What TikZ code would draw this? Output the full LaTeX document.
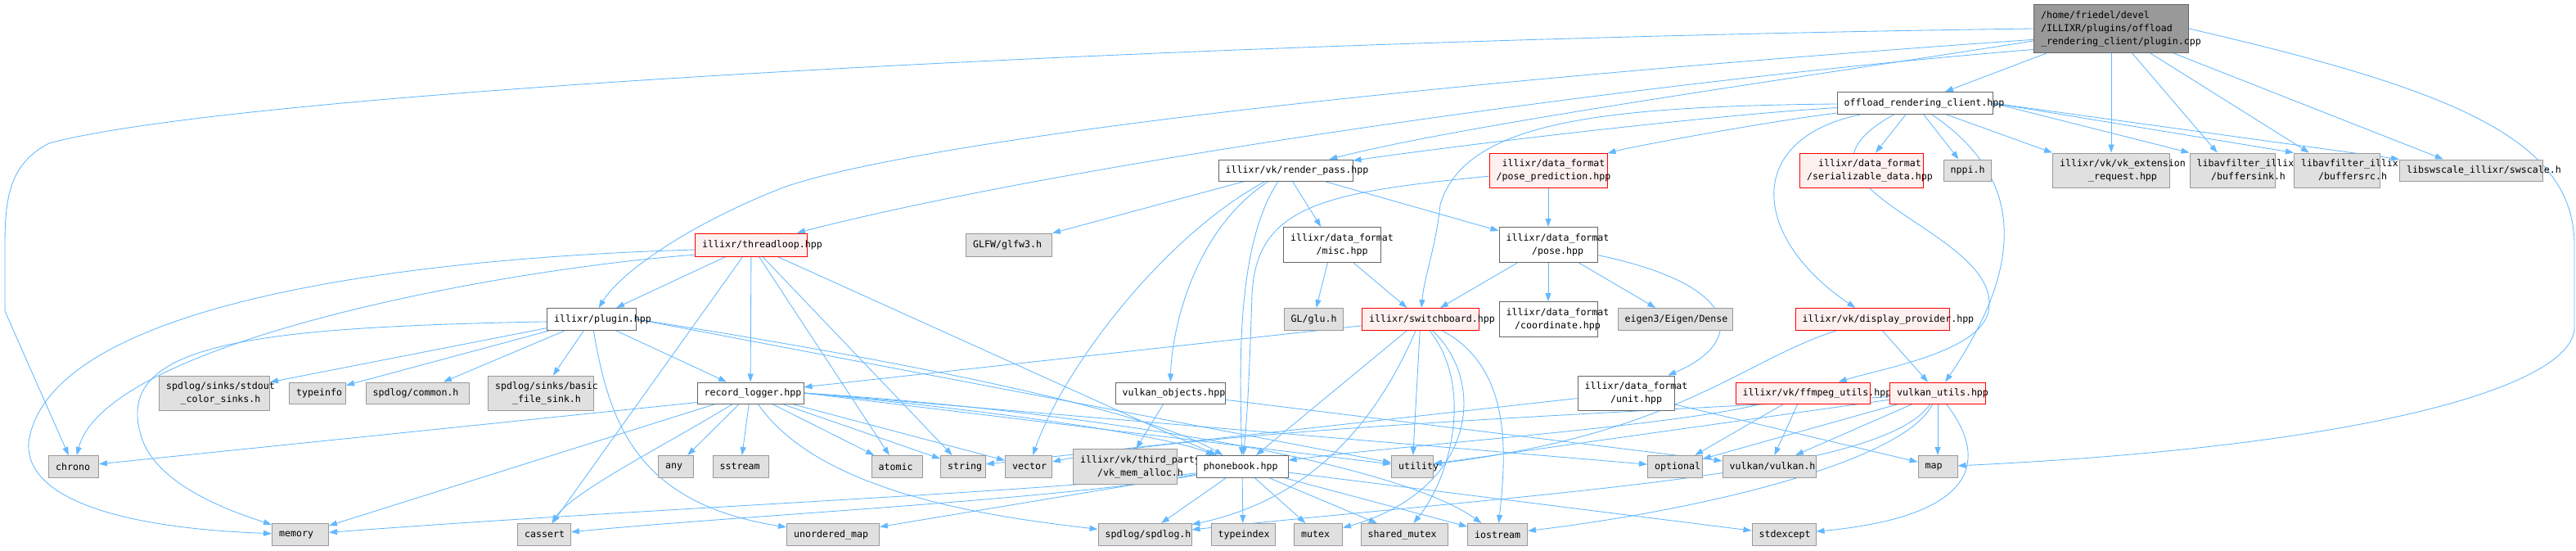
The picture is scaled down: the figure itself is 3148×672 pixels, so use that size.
\documentclass[tikz,border=0pt]{standalone}
\usepackage{fontspec}
\usetikzlibrary{arrows.meta}
\newfontfamily\dfont{DejaVu Sans Mono}
\definecolor{edgec}{RGB}{99,184,255}
\definecolor{extfill}{RGB}{224,224,224}
\definecolor{extdraw}{RGB}{153,153,153}
\definecolor{plaindraw}{RGB}{102,102,102}
\definecolor{redfill}{RGB}{255,240,240}
\definecolor{rootfill}{RGB}{153,153,153}
\pgfdeclarelayer{bg}
\pgfsetlayers{bg,main}
\tikzset{
  boxbase/.style={rectangle, inner sep=0pt, line width=1pt},
  plainbox/.style={boxbase, draw=plaindraw, fill=white},
  extbox/.style={boxbase, draw=extdraw, fill=extfill},
  redbox/.style={boxbase, draw=red, fill=redfill},
  rootbox/.style={boxbase, draw=plaindraw, fill=rootfill},
  txt/.style={anchor=west, inner sep=0pt, align=center, font={\dfont\fontsize{11.6}{16}\selectfont}},
  dep/.style={draw=edgec, line width=0.85pt, -{Triangle[length=10pt,width=7pt]}},
}
\newcommand\bx[7]{%
  \node[#2, minimum width=#5pt, minimum height=#6pt] (#1) at (#3,#4) {};
  \node[txt] (#1t) at ([xshift=9pt]#1.west) {#7};}
\begin{document}
\begin{tikzpicture}[x=1pt,y=-1pt]
\useasboundingbox (0,0) rectangle (3148,672);
% row 0
\node[rootbox, minimum width=189pt, minimum height=59pt] (P) at (2580,35) {};
\node[txt, align=left] (Pt) at ([xshift=9pt]P.west) {/home/friedel/devel\\/ILLIXR/plugins/offload\\\_rendering\_client/plugin.cpp};
% row 1
\bx{O}{plainbox}{2340}{126}{190}{27}{offload\_rendering\_client.hpp}
% row 2
\bx{R}{plainbox}{1571}{208}{164}{26}{illixr/vk/render\_pass.hpp}
\bx{PP}{redbox}{1892}{208}{144}{42}{illixr/data\_format\\/pose\_prediction.hpp}
\bx{serial}{redbox}{2275}{208}{151}{42}{illixr/data\_format\\/serializable\_data.hpp}
\bx{nppi}{extbox}{2404}{208}{58}{26}{nppi.h}
\bx{vkext}{extbox}{2580}{208}{143}{42}{illixr/vk/vk\_extension\\\_request.hpp}
\bx{bsink}{extbox}{2728}{208}{104}{42}{libavfilter\_illixr\\/buffersink.h}
\bx{bsrc}{extbox}{2856}{208}{105}{42}{libavfilter\_illixr\\/buffersrc.h}
\bx{swscale}{extbox}{3020}{208}{175}{26}{libswscale\_illixr/swscale.h}
% row 3
\bx{T}{redbox}{918}{299}{137}{28}{illixr/threadloop.hpp}
\bx{GLFW}{extbox}{1233}{299}{105}{28}{GLFW/glfw3.h}
\bx{M}{plainbox}{1628}{299}{119}{43}{illixr/data\_format\\/misc.hpp}
\bx{PO}{plainbox}{1892}{299}{120}{43}{illixr/data\_format\\/pose.hpp}
% row 4
\bx{PH}{plainbox}{723}{390}{109}{27}{illixr/plugin.hpp}
\bx{glu}{extbox}{1605}{390}{72}{27}{GL/glu.h}
\bx{SW}{redbox}{1736}{390}{143}{27}{illixr/switchboard.hpp}
\bx{coord}{plainbox}{1892}{390}{120}{43}{illixr/data\_format\\/coordinate.hpp}
\bx{eigen}{extbox}{2047}{390}{140}{27}{eigen3/Eigen/Dense}
\bx{DP}{redbox}{2288}{390}{188}{27}{illixr/vk/display\_provider.hpp}
% row 5
\bx{stdout}{extbox}{262}{480}{135}{42}{spdlog/sinks/stdout\\\_color\_sinks.h}
\bx{typeinfo}{extbox}{388}{480}{69}{26}{typeinfo}
\bx{common}{extbox}{510}{480}{126}{26}{spdlog/common.h}
\bx{basic}{extbox}{661}{480}{129}{42}{spdlog/sinks/basic\\\_file\_sink.h}
\bx{RL}{plainbox}{917}{480}{130}{26}{record\_logger.hpp}
\bx{VO}{plainbox}{1430}{480}{134}{26}{vulkan\_objects.hpp}
\bx{unit}{plainbox}{1987}{480}{118}{42}{illixr/data\_format\\/unit.hpp}
\bx{FF}{redbox}{2203}{480}{164}{26}{illixr/vk/ffmpeg\_utils.hpp}
\bx{VU}{redbox}{2368}{480}{117}{26}{vulkan\_utils.hpp}
% row 6
\bx{chrono}{extbox}{90}{570}{61}{27}{chrono}
\bx{any}{extbox}{826}{570}{43}{27}{any}
\bx{sstream}{extbox}{905}{570}{68}{27}{sstream}
\bx{atomic}{extbox}{1096}{570}{62}{27}{atomic}
\bx{string}{extbox}{1177}{570}{55}{27}{string}
\bx{vector}{extbox}{1257}{570}{57}{27}{vector}
\bx{vkmem}{extbox}{1375}{570}{127}{43}{illixr/vk/third\_party\\/vk\_mem\_alloc.h}
\bx{PB}{plainbox}{1518}{570}{112}{27}{phonebook.hpp}
\bx{utility}{extbox}{1726}{570}{51}{27}{utility}
\bx{optional}{extbox}{2047}{570}{67}{27}{optional}
\bx{vulkanh}{extbox}{2162}{570}{114}{27}{vulkan/vulkan.h}
\bx{map}{extbox}{2368}{570}{48}{27}{map}
% row 7
\bx{memory}{extbox}{367}{653}{69}{27}{memory}
\bx{cassert}{extbox}{665}{653}{65}{27}{cassert}
\bx{umap}{extbox}{1018}{653}{113}{27}{unordered\_map}
\bx{spdlog}{extbox}{1399}{653}{114}{27}{spdlog/spdlog.h}
\bx{typeindex}{extbox}{1519}{653}{78}{27}{typeindex}
\bx{mutex}{extbox}{1611}{653}{59}{27}{mutex}
\bx{shmutex}{extbox}{1716}{653}{106}{27}{shared\_mutex}
\bx{iostream}{extbox}{1830}{653}{73}{27}{iostream}
\bx{stdexcept}{extbox}{2180}{653}{78}{27}{stdexcept}

\begin{pgfonlayer}{bg}
% plugin.cpp
\draw[dep] (P.west) .. controls (1500,48) and (300,110) .. (60,175) .. controls (12,200) and (6,240) .. (6,300) -- (6,380) -- (chrono);
\draw[dep] (P.188) .. controls (1600,110) and (1100,180) .. (960,228) .. controls (850,270) and (760,330) .. (PH);
\draw[dep] (P.195) .. controls (2000,100) and (1300,200) .. (T);
\draw[dep] (P) .. controls (2200,95) and (1800,150) .. (R);
\draw[dep] (P) -- (O);
\draw[dep] (P) -- (vkext);
\draw[dep] (P) -- (bsink);
\draw[dep] (P) -- (bsrc);
\draw[dep] (P) -- (swscale);
\draw[dep] (P.east) .. controls (3000,110) and (3146,170) .. (3146,300) -- (3146,400) .. controls (3146,470) and (2900,545) .. (map);
% offload
\draw[dep] (O) .. controls (2100,140) and (1800,175) .. (R);
\draw[dep] (O) .. controls (2150,150) and (1990,180) .. (PP);
\draw[dep] (O) .. controls (1950,130) and (1790,150) .. (1760,250) .. controls (1755,300) and (1740,340) .. (SW);
\draw[dep] (O) -- (serial);
\draw[dep] (O) -- (nppi);
\draw[dep] (O) -- (vkext.north west);
\draw[dep] (O.east) -- (bsink.north west);
\draw[dep] (O.east) -- (bsrc.north west);
\draw[dep] (O.east) -- (swscale.north west);
\draw[dep] (O) .. controls (2130,170) and (2140,290) .. (DP);
\draw[dep] (O) .. controls (2150,230) and (2450,280) .. (2430,380) .. controls (2420,430) and (2300,450) .. (FF);
\draw[dep] (O) .. controls (2480,220) and (2470,330) .. (VU);
% render_pass
\draw[dep] (R) -- (GLFW);
\draw[dep] (R) -- (M);
\draw[dep] (R) -- (PO);
\draw[dep] (R) .. controls (1460,280) and (1432,400) .. (VO);
\draw[dep] (R) .. controls (1420,290) and (1300,450) .. (vector);
\draw[dep] (R) .. controls (1510,300) and (1515,450) .. (PB);
% pose_prediction
\draw[dep] (PP) -- (PO);
\draw[dep] (PP) .. controls (1620,235) and (1535,250) .. (1530,360) .. controls (1527,450) and (1525,500) .. (PB);
% pose
\draw[dep] (PO) -- (SW);
\draw[dep] (PO) -- (coord);
\draw[dep] (PO) -- (eigen);
\draw[dep] (PO) .. controls (2136,350) and (2130,420) .. (unit);
% misc
\draw[dep] (M) -- (glu);
\draw[dep] (M) -- (SW);
% threadloop
\draw[dep] (T) -- (PH);
\draw[dep] (T) -- (RL);
\draw[dep] (T) -- (atomic);
\draw[dep] (T) -- (string);
\draw[dep] (T) -- (cassert);
\draw[dep] (T) -- (PB);
\draw[dep] (T.190) .. controls (600,330) and (130,420) .. (chrono);
\draw[dep] (T.185) .. controls (500,315) and (60,370) .. (35,540) .. controls (30,610) and (150,645) .. (memory);
% plugin.hpp
\draw[dep] (PH) -- (stdout);
\draw[dep] (PH) -- (typeinfo);
\draw[dep] (PH) -- (common);
\draw[dep] (PH) -- (basic);
\draw[dep] (PH) -- (RL);
\draw[dep] (PH.183) .. controls (300,400) and (130,420) .. (175,540) .. controls (200,600) and (300,630) .. (memory);
\draw[dep] (PH) .. controls (745,520) and (780,615) .. (umap);
\draw[dep] (PH.east) .. controls (1100,440) and (1400,500) .. (PB);
\draw[dep] (PH.east) -- (utility);
% switchboard
\draw[dep] (SW) -- (RL);
\draw[dep] (SW) -- (PB);
\draw[dep] (SW) -- (utility);
\draw[dep] (SW) .. controls (1680,520) and (1600,610) .. (spdlog);
\draw[dep] (SW) .. controls (1800,470) and (1775,580) .. (shmutex);
\draw[dep] (SW) .. controls (1820,470) and (1800,600) .. (mutex);
\draw[dep] (SW) .. controls (1850,450) and (1840,560) .. (iostream);
% record_logger
\draw[dep] (RL.190) -- (chrono);
\draw[dep] (RL) -- (memory);
\draw[dep] (RL) .. controls (820,540) and (700,600) .. (cassert);
\draw[dep] (RL) -- (any);
\draw[dep] (RL) -- (sstream);
\draw[dep] (RL) -- (atomic);
\draw[dep] (RL) -- (string);
\draw[dep] (RL) -- (vector);
\draw[dep] (RL) .. controls (1000,600) and (1200,630) .. (spdlog);
\draw[dep] (RL.east) .. controls (1200,500) and (1420,530) .. (PB);
\draw[dep] (RL.east) -- (utility);
\draw[dep] (RL.east) -- (optional);
\draw[dep] (RL.east) .. controls (1300,500) and (1700,560) .. (iostream);
% vulkan_objects
\draw[dep] (VO) -- (vkmem);
\draw[dep] (VO) -- (vulkanh);
% unit
\draw[dep] (unit) -- (string);
\draw[dep] (unit) -- (map);
% display_provider
\draw[dep] (DP) -- (VU);
\draw[dep] (DP) .. controls (2130,440) and (2050,530) .. (utility);
% ffmpeg_utils
\draw[dep] (FF) .. controls (2050,520) and (1700,545) .. (PB);
\draw[dep] (FF) -- (optional);
\draw[dep] (FF) -- (vulkanh);
% vulkan_utils
\draw[dep] (VU) -- (map);
\draw[dep] (VU) -- (vulkanh);
\draw[dep] (VU) -- (optional);
\draw[dep] (VU) -- (utility);
\draw[dep] (VU) .. controls (2100,500) and (1500,520) .. (vector);
\draw[dep] (VU) .. controls (2430,560) and (2420,630) .. (stdexcept);
\draw[dep] (VU) .. controls (2330,560) and (2100,620) .. (iostream);
\draw[dep] (VU) .. controls (2300,580) and (1900,600) .. (spdlog);
% phonebook
\draw[dep] (PB) -- (spdlog);
\draw[dep] (PB) -- (typeindex);
\draw[dep] (PB) -- (mutex);
\draw[dep] (PB) -- (shmutex);
\draw[dep] (PB) -- (iostream);
\draw[dep] (PB) -- (stdexcept);
\draw[dep] (PB) -- (umap);
\draw[dep] (PB) .. controls (1300,600) and (800,620) .. (memory);
\draw[dep] (PB) .. controls (1300,610) and (900,630) .. (cassert);
\end{pgfonlayer}
\end{tikzpicture}
\end{document}
